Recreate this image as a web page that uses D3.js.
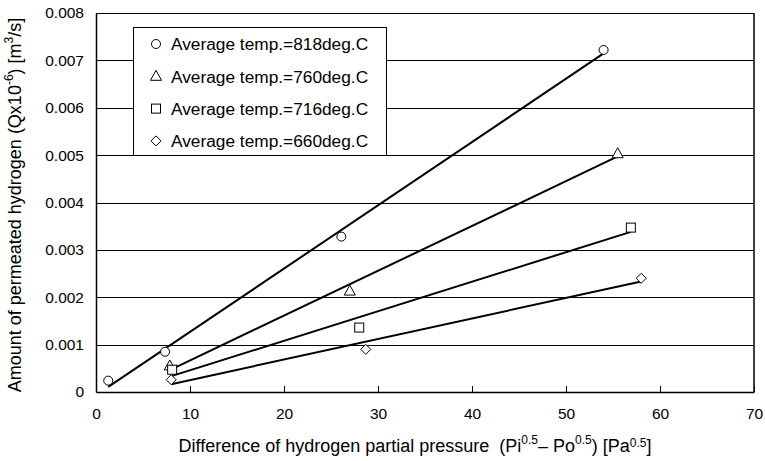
<!DOCTYPE html>
<html>
<head>
<meta charset="UTF-8">
<script src="https://cdn.jsdelivr.net/npm/d3@7"></script>
<style>
  body { margin: 0; background: #fff; }
  svg { font-family: "Liberation Sans", Arial, sans-serif; }
  .title { white-space: pre; }
</style>
</head>
<body>
<svg id="chart" width="765" height="461"></svg>
<script>
// series (x = Pi^0.5 - Po^0.5, y = Q)
const labels = ['Average temp.=818deg.C', 'Average temp.=760deg.C', 'Average temp.=716deg.C', 'Average temp.=660deg.C'];
const symbols = ['circle', 'triangle', 'square', 'diamond'];
const x818 = [1.3, 7.35, 26.1, 54.0];
const y818 = [0.00024, 0.00085, 0.00328, 0.00722];
const x760 = [7.85, 27.0, 55.5];
const y760 = [0.00055, 0.00213, 0.00503];
const x716 = [8.1, 28.0, 56.9];
const y716 = [0.00047, 0.00136, 0.00347];
const x660 = [8.0, 28.7, 58.0];
const y660 = [0.00026, 0.00090, 0.00240];
const xTicks = [0, 10, 20, 30, 40, 50, 60, 70];
const yTicks = [0, 0.001, 0.002, 0.003, 0.004, 0.005, 0.006, 0.007, 0.008];

const series = [[x818, y818], [x760, y760], [x716, y716], [x660, y660]];

const margin = { left: 96, right: 11, top: 13, bottom: 69 };
const W = 765, H = 461;
const svg = d3.select('#chart');

const x = d3.scaleLinear().domain([0, 70]).range([margin.left, W - margin.right]);
const y = d3.scaleLinear().domain([0, 0.008]).range([H - margin.bottom, margin.top]);

// gridlines
svg.append('g').selectAll('line').data(yTicks.slice(1)).enter().append('line')
  .attr('x1', x(0)).attr('x2', x(70))
  .attr('y1', d => Math.round(y(d)) + 0.5).attr('y2', d => Math.round(y(d)) + 0.5)
  .attr('stroke', '#000').attr('stroke-width', 1);

// right border
svg.append('line')
  .attr('x1', x(70)).attr('x2', x(70)).attr('y1', y(0.008)).attr('y2', y(0))
  .attr('stroke', '#000').attr('stroke-width', 1.5);

// axes
const xAxis = svg.append('g').attr('transform', `translate(0,${y(0)})`)
  .call(d3.axisBottom(x).tickValues(xTicks).tickSize(-6).tickPadding(16).tickSizeOuter(0));
const yAxis = svg.append('g').attr('transform', `translate(${x(0)},0)`)
  .call(d3.axisLeft(y).tickValues(yTicks).tickSize(0).tickPadding(12)
    .tickFormat(d => d === 0 ? '0' : d3.format('.3f')(d)));
[xAxis, yAxis].forEach(g => {
  g.select('.domain').attr('stroke', '#000').attr('stroke-width', 1.5);
  g.selectAll('.tick line').attr('stroke', '#000');
  g.selectAll('text').attr('font-size', 15.5).attr('fill', '#000')
    .attr('font-family', '"Liberation Sans", Arial, sans-serif');
});

// linear trendlines (least squares, drawn over the x-range of each series)
function fit(xs, ys) {
  const mx = d3.mean(xs), my = d3.mean(ys);
  const sxy = d3.sum(xs, (v, i) => (v - mx) * (ys[i] - my));
  const sxx = d3.sum(xs, v => (v - mx) * (v - mx));
  const b = sxy / sxx, a = my - b * mx;
  const x0 = d3.min(xs), x1 = d3.max(xs);
  return [[x0, a + b * x0], [x1, a + b * x1]];
}
series.forEach(([xs, ys]) => {
  const seg = fit(xs, ys);
  svg.append('line')
    .attr('x1', x(seg[0][0])).attr('y1', y(seg[0][1]))
    .attr('x2', x(seg[1][0])).attr('y2', y(seg[1][1]))
    .attr('stroke', '#000').attr('stroke-width', 2);
});

// markers
function marker(g, kind, cx, cy) {
  if (kind === 'circle') {
    g.append('circle').attr('cx', cx).attr('cy', cy).attr('r', 4.5);
  } else if (kind === 'triangle') {
    g.append('path').attr('d', `M${cx},${cy - 6}L${cx + 5.5},${cy + 4}L${cx - 5.5},${cy + 4}Z`);
  } else if (kind === 'square') {
    g.append('rect').attr('x', cx - 4.5).attr('y', cy - 4.5).attr('width', 9).attr('height', 9);
  } else {
    g.append('path').attr('d', `M${cx},${cy - 5}L${cx + 5},${cy}L${cx},${cy + 5}L${cx - 5},${cy}Z`);
  }
}
series.forEach(([xs, ys], s) => {
  const g = svg.append('g').attr('fill', '#fff').attr('stroke', '#000').attr('stroke-width', 1);
  xs.forEach((v, i) => marker(g, symbols[s], x(v), y(ys[i])));
});

// legend
const lg = svg.append('g');
lg.append('rect').attr('x', 133.5).attr('y', 27.5).attr('width', 253).attr('height', 128)
  .attr('fill', '#fff').attr('stroke', '#000').attr('stroke-width', 1);
labels.forEach((t, i) => {
  const cy = 44 + i * 32.3;
  const mg = lg.append('g').attr('fill', '#fff').attr('stroke', '#000').attr('stroke-width', 1);
  marker(mg, symbols[i], 156, cy);
  lg.append('text').attr('x', 171).attr('y', cy).attr('dy', '0.36em')
    .attr('font-size', 17.3).text(t);
});

// axis titles
const xt = svg.append('text').attr('class', 'title').attr('x', 415).attr('y', 452)
  .attr('text-anchor', 'middle').attr('font-size', 18);
xt.append('tspan').text('Difference of hydrogen partial pressure  (Pi');
xt.append('tspan').attr('font-size', 12).attr('dy', -8).text('0.5');
xt.append('tspan').attr('dy', 8).text('– Po');
xt.append('tspan').attr('font-size', 12).attr('dy', -8).text('0.5');
xt.append('tspan').attr('dy', 8).text(') [Pa');
xt.append('tspan').attr('font-size', 12).attr('dy', -5).text('0.5');
xt.append('tspan').attr('dy', 5).text(']');

const yt = svg.append('text').attr('class', 'title')
  .attr('transform', 'translate(21,205) rotate(-90)')
  .attr('text-anchor', 'middle').attr('font-size', 18);
yt.append('tspan').text('Amount of permeated hydrogen (Qx10');
yt.append('tspan').attr('font-size', 12).attr('dy', -8).text('-6');
yt.append('tspan').attr('dy', 8).text(') [m');
yt.append('tspan').attr('font-size', 12).attr('dy', -8).text('3');
yt.append('tspan').attr('dy', 8).text('/s]');
</script>
</body>
</html>
